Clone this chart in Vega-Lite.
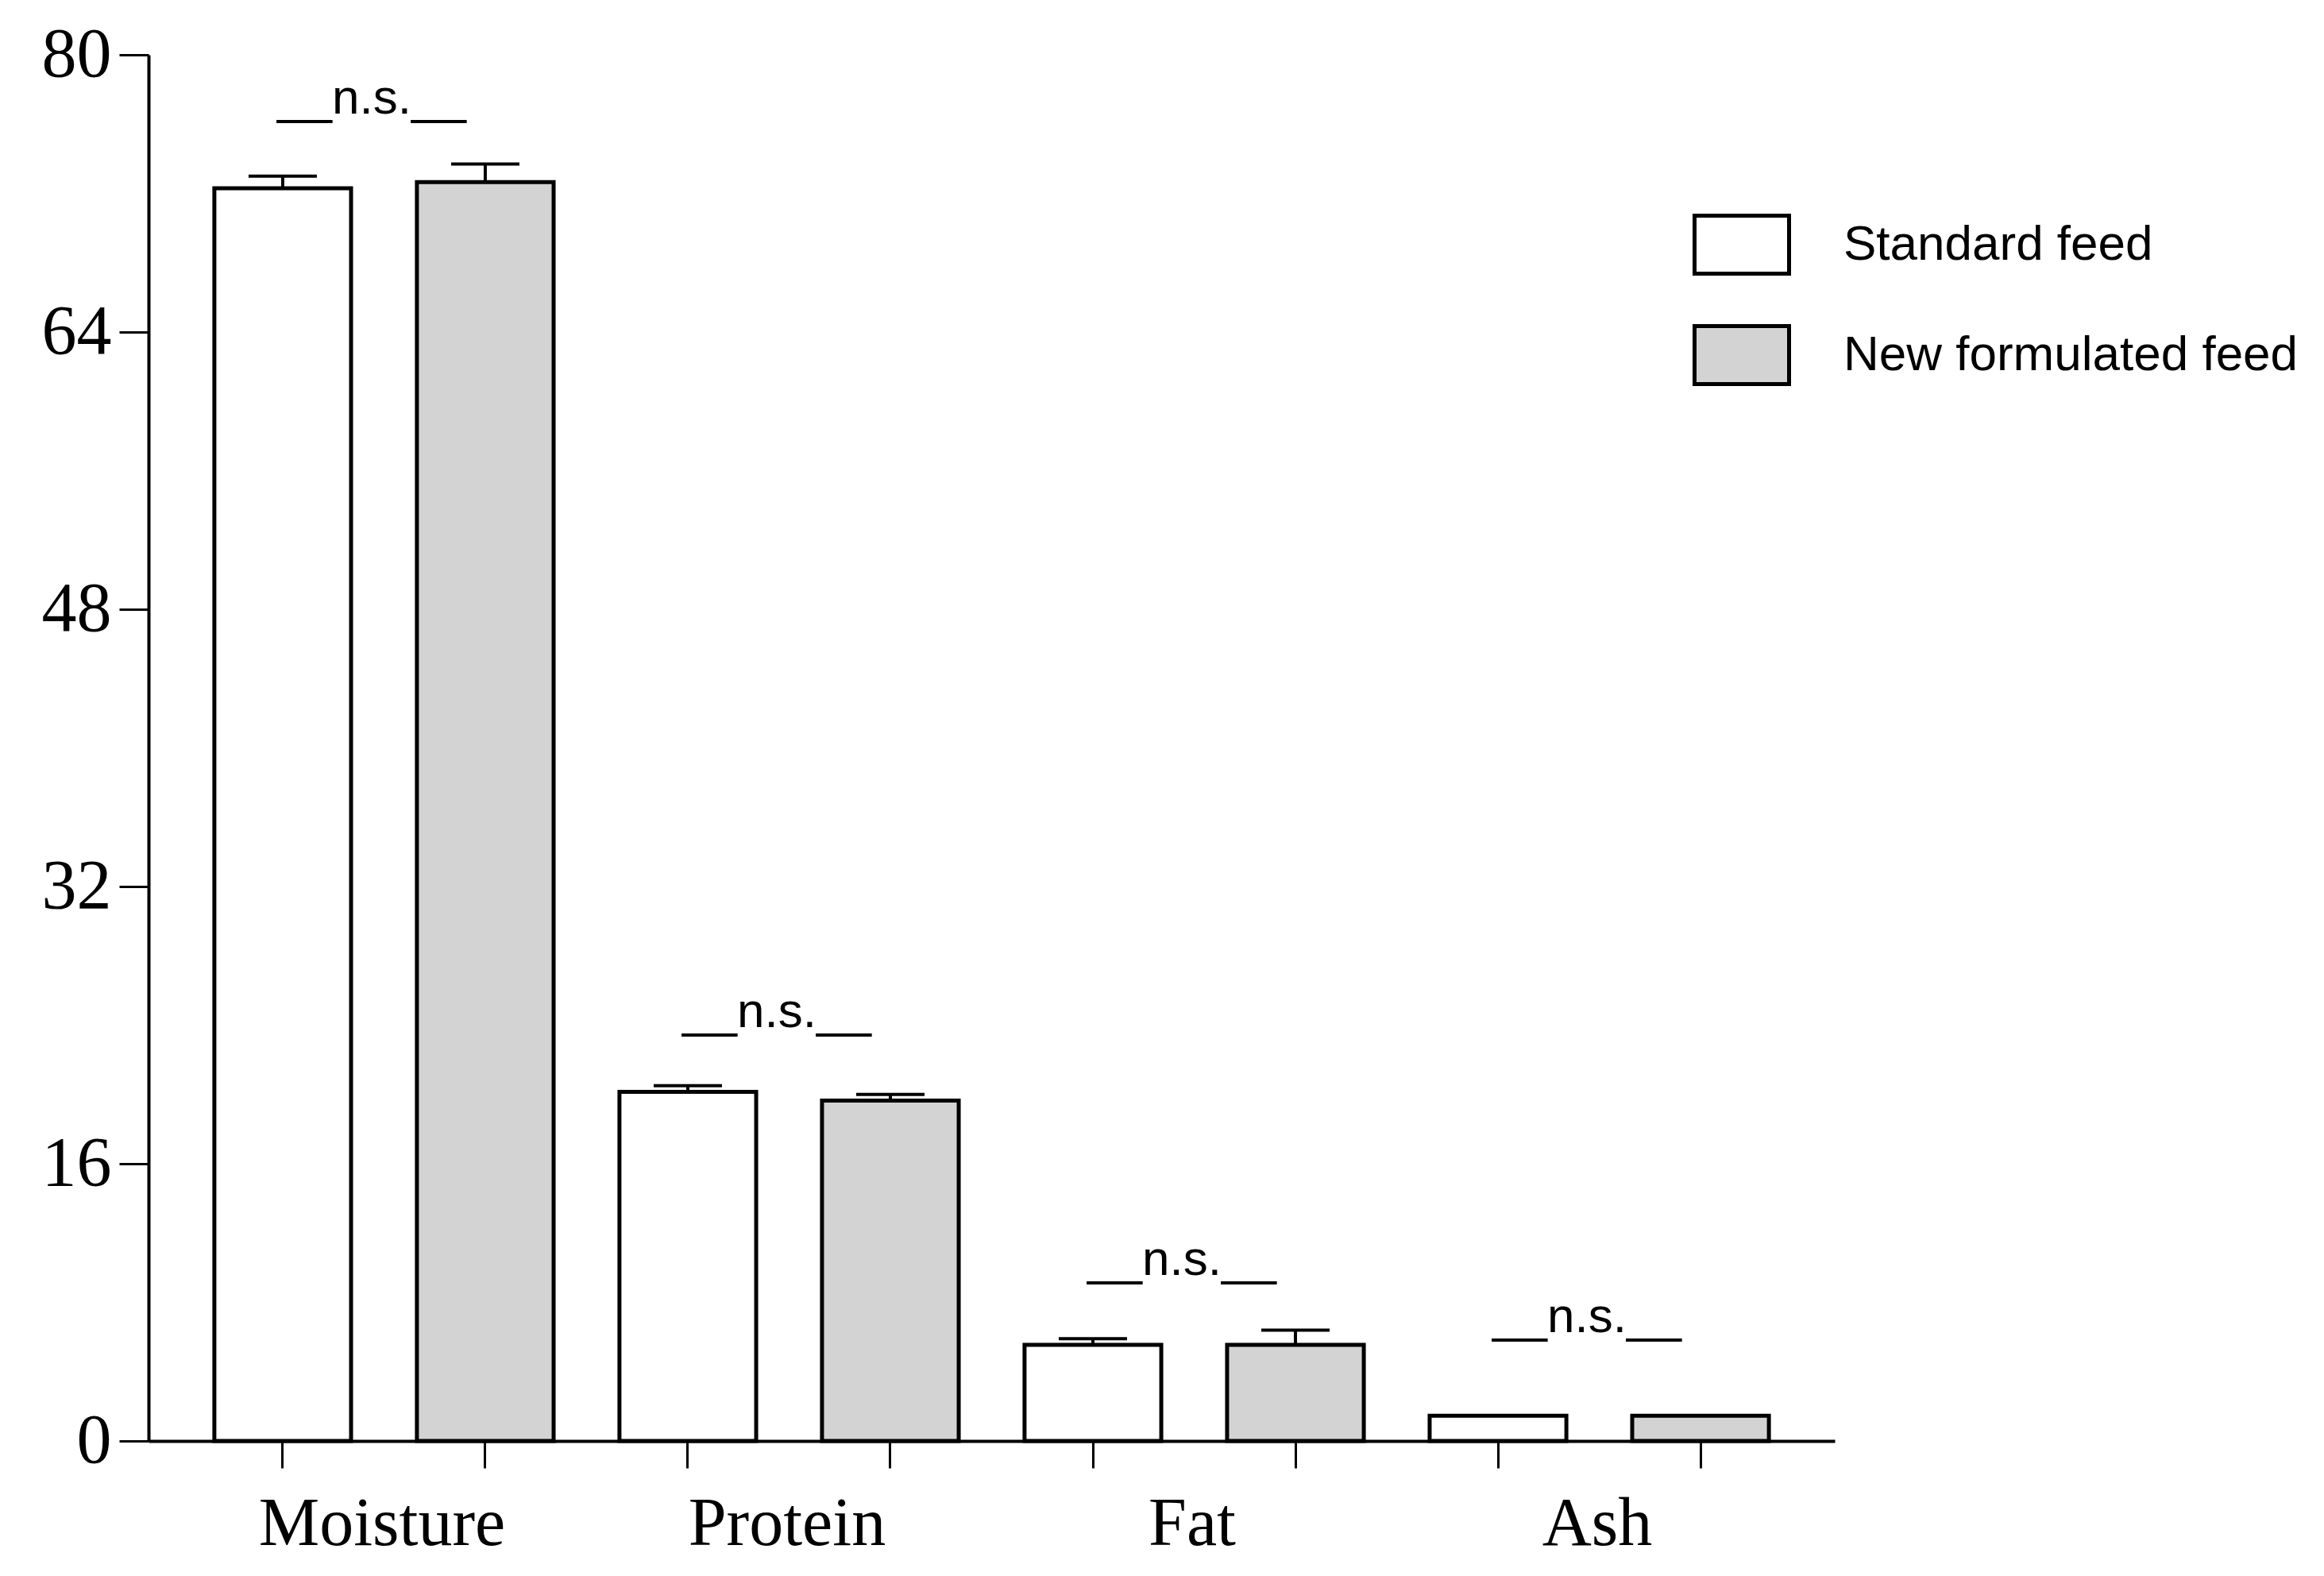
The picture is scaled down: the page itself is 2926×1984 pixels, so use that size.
{
  "$schema": "https://vega.github.io/schema/vega-lite/v6.json",
  "autosize": {"type": "none"},
  "width": 2123,
  "height": 1745,
  "padding": {"left": 187, "top": 69, "right": 616, "bottom": 170},
  "background": "white",
  "config": {"view": {"stroke": null}},
  "datasets": {
    "bars": [
      {"key": "Moisture_S", "cat": "Moisture", "group": "Standard feed", "value": 72.3, "upper": 73.0},
      {"key": "Moisture_N", "cat": "Moisture", "group": "New formulated feed", "value": 72.65, "upper": 73.7},
      {"key": "Protein_S", "cat": "Protein", "group": "Standard feed", "value": 20.15, "upper": 20.5},
      {"key": "Protein_N", "cat": "Protein", "group": "New formulated feed", "value": 19.65, "upper": 20.0},
      {"key": "Fat_S", "cat": "Fat", "group": "Standard feed", "value": 5.55, "upper": 5.9},
      {"key": "Fat_N", "cat": "Fat", "group": "New formulated feed", "value": 5.55, "upper": 6.4},
      {"key": "Ash_S", "cat": "Ash", "group": "Standard feed", "value": 1.45, "upper": null},
      {"key": "Ash_N", "cat": "Ash", "group": "New formulated feed", "value": 1.45, "upper": null}
    ],
    "notes": [
      {"key": "Moisture_S", "label": "__n.s.__", "level": 76.6},
      {"key": "Protein_S", "label": "__n.s.__", "level": 23.9},
      {"key": "Fat_S", "label": "__n.s.__", "level": 9.6},
      {"key": "Ash_S", "label": "__n.s.__", "level": 6.3}
    ]
  },
  "encoding": {
    "x": {
      "field": "key",
      "type": "nominal",
      "scale": {
        "domain": ["Moisture_S", "Moisture_N", "Protein_S", "Protein_N", "Fat_S", "Fat_N", "Ash_S", "Ash_N"],
        "paddingInner": 0.325,
        "paddingOuter": 0.325
      },
      "axis": {
        "title": null,
        "domainColor": "black",
        "domainWidth": 4,
        "tickColor": "black",
        "tickWidth": 3,
        "tickSize": 34,
        "labelAngle": 0,
        "labelFont": "Liberation Serif",
        "labelFontSize": 86,
        "labelColor": "black",
        "labelPadding": 28,
        "labelOffset": 125,
        "labelAlign": "center",
        "labelLimit": 0,
        "labelOverlap": false,
        "labelBound": false,
        "labelExpr": "indexof(datum.value, '_S') > 0 ? split(datum.value, '_')[0] : ''"
      }
    }
  },
  "layer": [
    {
      "data": {"name": "bars"},
      "mark": {"type": "bar", "stroke": "black", "strokeWidth": 5},
      "encoding": {
        "y": {
          "field": "value",
          "type": "quantitative",
          "scale": {"domain": [0, 80], "nice": false},
          "axis": {
            "title": null,
            "values": [0, 16, 32, 48, 64, 80],
            "grid": false,
            "domainColor": "black",
            "domainWidth": 4,
            "tickColor": "black",
            "tickWidth": 3,
            "tickSize": 37,
            "labelFont": "Liberation Serif",
            "labelFontSize": 88,
            "labelColor": "black",
            "labelPadding": 10
          }
        },
        "fill": {
          "field": "group",
          "type": "nominal",
          "scale": {"domain": ["Standard feed", "New formulated feed"], "range": ["white", "#d3d3d3"]},
          "legend": {
            "title": null,
            "orient": "none",
            "legendX": 1944,
            "legendY": 177,
            "padding": 0,
            "direction": "vertical",
            "symbolType": "M-1,-0.613H1V0.613H-1Z",
            "symbolSize": 14161,
            "symbolStrokeColor": "black",
            "symbolStrokeWidth": 5,
            "symbolOpacity": 1,
            "rowPadding": 30,
            "labelOffset": 66,
            "labelFont": "Liberation Sans",
            "labelFontSize": 62,
            "labelColor": "black",
            "labelLimit": 0
          }
        }
      }
    },
    {
      "data": {"name": "bars"},
      "transform": [{"filter": "datum.upper != null"}],
      "mark": {"type": "rule", "color": "black", "strokeWidth": 4},
      "encoding": {
        "y": {"field": "value", "type": "quantitative"},
        "y2": {"field": "upper"}
      }
    },
    {
      "data": {"name": "bars"},
      "transform": [{"filter": "datum.upper != null"}],
      "mark": {"type": "tick", "color": "black", "thickness": 4, "size": 86, "opacity": 1},
      "encoding": {
        "y": {"field": "upper", "type": "quantitative"}
      }
    },
    {
      "data": {"name": "notes"},
      "mark": {"type": "text", "font": "Liberation Sans", "fontSize": 62, "color": "black", "align": "center", "baseline": "alphabetic", "dx": 112},
      "encoding": {
        "y": {"field": "level", "type": "quantitative"},
        "text": {"field": "label"}
      }
    }
  ]
}
